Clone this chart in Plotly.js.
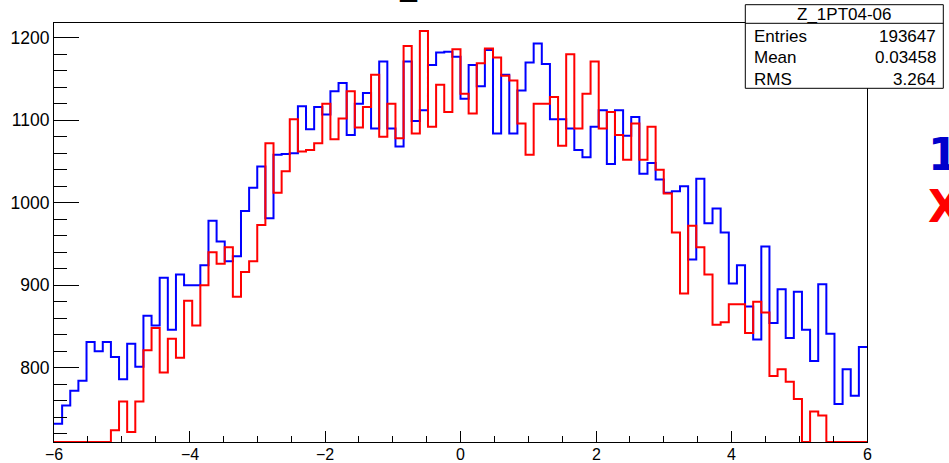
<!DOCTYPE html>
<html>
<head>
<meta charset="utf-8">
<script src="https://cdn.plot.ly/plotly-3.0.1.min.js"></script>
<style>html,body{margin:0;padding:0;background:#fff;}#chart{width:949px;height:463px;}</style>
</head>
<body>
<div id="chart"></div>
<script>
// Histogram binning
const X_MIN = -6, X_MAX = 6, N_BINS = 100;

// Series 1 (blue) bin contents
const blueCounts = [
  732, 754, 772, 784, 831, 820, 831, 813, 786, 829,
  801, 863, 851, 909, 846, 913, 900, 900, 924, 978,
  953, 929, 935, 990, 1018, 1044, 981, 1058, 1059, 1060,
  1117, 1089, 1116, 1107, 1135, 1145, 1082, 1120, 1133, 1090,
  1171, 1090, 1068, 1171, 1099, 1112, 1167, 1182, 1183, 1177,
  1126, 1167, 1141, 1185, 1084, 1155, 1084, 1136, 1170, 1193,
  1168, 1101, 1101, 1090, 1064, 1055, 1092, 1112, 1047, 1112,
  1081, 1104, 1035, 1048, 1028, 1012, 1014, 1020, 931, 1029,
  975, 993, 964, 902, 924, 874, 834, 947, 854, 895,
  836, 892, 846, 808, 901, 841, 756, 798, 766, 825
];

// Series 2 (red) bin contents (bins at the frame floor are below the shown range)
const redCounts = [
  710, 710, 710, 710, 710, 710, 710, 724, 759, 722,
  759, 821, 848, 794, 835, 812, 881, 851, 900, 940,
  926, 946, 886, 916, 929, 973, 1072, 1012, 1038, 1101,
  1062, 1064, 1072, 1120, 1077, 1102, 1135, 1091, 1116, 1155,
  1080, 1120, 1078, 1190, 1084, 1208, 1092, 1143, 1110, 1186,
  1132, 1108, 1169, 1187, 1176, 1154, 1148, 1096, 1058, 1120,
  1120, 1128, 1069, 1180, 1090, 1132, 1171, 1090, 1110, 1082,
  1052, 1096, 1052, 1092, 1040, 1011, 964, 890, 972, 946,
  913, 852, 855, 877, 877, 842, 880, 867, 790, 798,
  783, 762, 710, 747, 742, 710, 710, 710, 710, 710
];

// Axis tick labels
const xTickVals = [-6, -4, -2, 0, 2, 4, 6];
const xTickText = ["\u22126", "\u22124", "\u22122", "0", "2", "4", "6"];

// Stats box content
const statsTitle = "Z_1PT04-06";
const statsLabels = ["Entries", "Mean", "RMS"];
const statsValues = ["193647", "0.03458", "3.264"];
const histTitle = "Z_1PT04-06";
const sideLabels = ["1", "X"];

const Y_RANGE = [709.9, 1217.8];

const binW = (X_MAX - X_MIN) / N_BINS;
const edges = [];
for (let i = 0; i <= N_BINS; i++) edges.push(X_MIN + i * binW);
function stepY(arr) { return arr.concat([arr[arr.length - 1]]); }

const FONT = "Liberation Sans, Arial, Helvetica, sans-serif";

const traces = [
  {x: edges, y: stepY(blueCounts), type: 'scatter', mode: 'lines',
   line: {shape: 'hv', color: '#0000ff', width: 2}, hoverinfo: 'skip'},
  {x: edges, y: stepY(redCounts), type: 'scatter', mode: 'lines',
   line: {shape: 'hv', color: '#ff0000', width: 2}, hoverinfo: 'skip'}
];

// plot area in pixels: x 54..867, y 23..442
const PL = 54, PW = 813, PT = 23, PH = 419;
const px = v => (v - PL) / PW;
const py = v => (PT + PH - v) / PH;

const annotations = [];
annotations.push({xref: 'paper', yref: 'paper', x: px(465), y: py(3), xanchor: 'center', yanchor: 'bottom',
  text: histTitle, showarrow: false, borderpad: 0, font: {family: FONT, size: 30, color: '#000'}});
annotations.push({xref: 'paper', yref: 'paper', x: px(844.3), y: py(14.5), xanchor: 'center', yanchor: 'middle',
  text: statsTitle, showarrow: false, borderpad: 0, font: {family: FONT, size: 17, color: '#000'}});
const rowY = [36.3, 57.8, 79.4];
statsLabels.forEach((lab, i) => {
  annotations.push({xref: 'paper', yref: 'paper', x: px(752.5), y: py(rowY[i]), xanchor: 'left', yanchor: 'middle',
    text: lab, showarrow: false, borderpad: 0, font: {family: FONT, size: 17, color: '#000'}});
  annotations.push({xref: 'paper', yref: 'paper', x: px(936.5), y: py(rowY[i]), xanchor: 'right', yanchor: 'middle',
    text: statsValues[i], showarrow: false, borderpad: 0, font: {family: FONT, size: 17, color: '#000'}});
});
annotations.push({xref: 'paper', yref: 'paper', x: px(927), y: py(154), xanchor: 'left', yanchor: 'middle',
  text: '<b>' + sideLabels[0] + '</b>', showarrow: false, borderpad: 0,
  font: {family: 'DejaVu Sans, sans-serif', size: 44, color: '#0000cc'}});
annotations.push({xref: 'paper', yref: 'paper', x: px(927), y: py(206.5), xanchor: 'left', yanchor: 'middle',
  text: '<b>' + sideLabels[1] + '</b>', showarrow: false, borderpad: 0,
  font: {family: 'DejaVu Sans, sans-serif', size: 44, color: '#ff0000'}});
// x tick labels placed through the x axis scale
xTickVals.forEach((v, i) => {
  annotations.push({xref: 'x', yref: 'paper', x: v, y: py(445), xanchor: 'center', yanchor: 'top',
    text: xTickText[i], showarrow: false, borderpad: 0, font: {family: FONT, size: 16, color: '#000'}});
});

const shapes = [
  {type: 'rect', xref: 'paper', yref: 'paper', x0: px(745.3), x1: px(943.3), y0: py(88.3), y1: py(4.7),
   line: {color: '#000', width: 1}, fillcolor: '#fff', layer: 'above'},
  {type: 'line', xref: 'paper', yref: 'paper', x0: px(745.3), x1: px(943.3), y0: py(23.3), y1: py(23.3),
   line: {color: '#000', width: 1}, layer: 'above'}
];

const layout = {
  width: 949, height: 463,
  margin: {l: PL, r: 949 - PL - PW, t: PT, b: 463 - PT - PH, pad: 0},
  paper_bgcolor: '#fff', plot_bgcolor: '#fff',
  showlegend: false,
  xaxis: {range: [X_MIN, X_MAX], dtick: 2, tick0: 0, ticks: 'inside', ticklen: 11, tickwidth: 1, tickcolor: '#000',
    minor: {dtick: 0.5, tick0: 0, ticks: 'inside', ticklen: 6, tickwidth: 1, tickcolor: '#000'},
    showline: true, mirror: true, linecolor: '#000', linewidth: 1, showgrid: false, zeroline: false,
    showticklabels: false, fixedrange: true},
  yaxis: {range: Y_RANGE, dtick: 100, tick0: 0, ticks: 'inside', ticklen: 25, tickwidth: 1, tickcolor: '#000',
    minor: {dtick: 20, tick0: 0, ticks: 'inside', ticklen: 12.7, tickwidth: 1, tickcolor: '#000'},
    showline: true, mirror: true, linecolor: '#000', linewidth: 1, showgrid: false, zeroline: false,
    tickfont: {family: FONT, size: 17.5, color: '#000'}, fixedrange: true},
  annotations: annotations,
  shapes: shapes
};

Plotly.newPlot('chart', traces, layout, {staticPlot: true, displayModeBar: false});
</script>
</body>
</html>
